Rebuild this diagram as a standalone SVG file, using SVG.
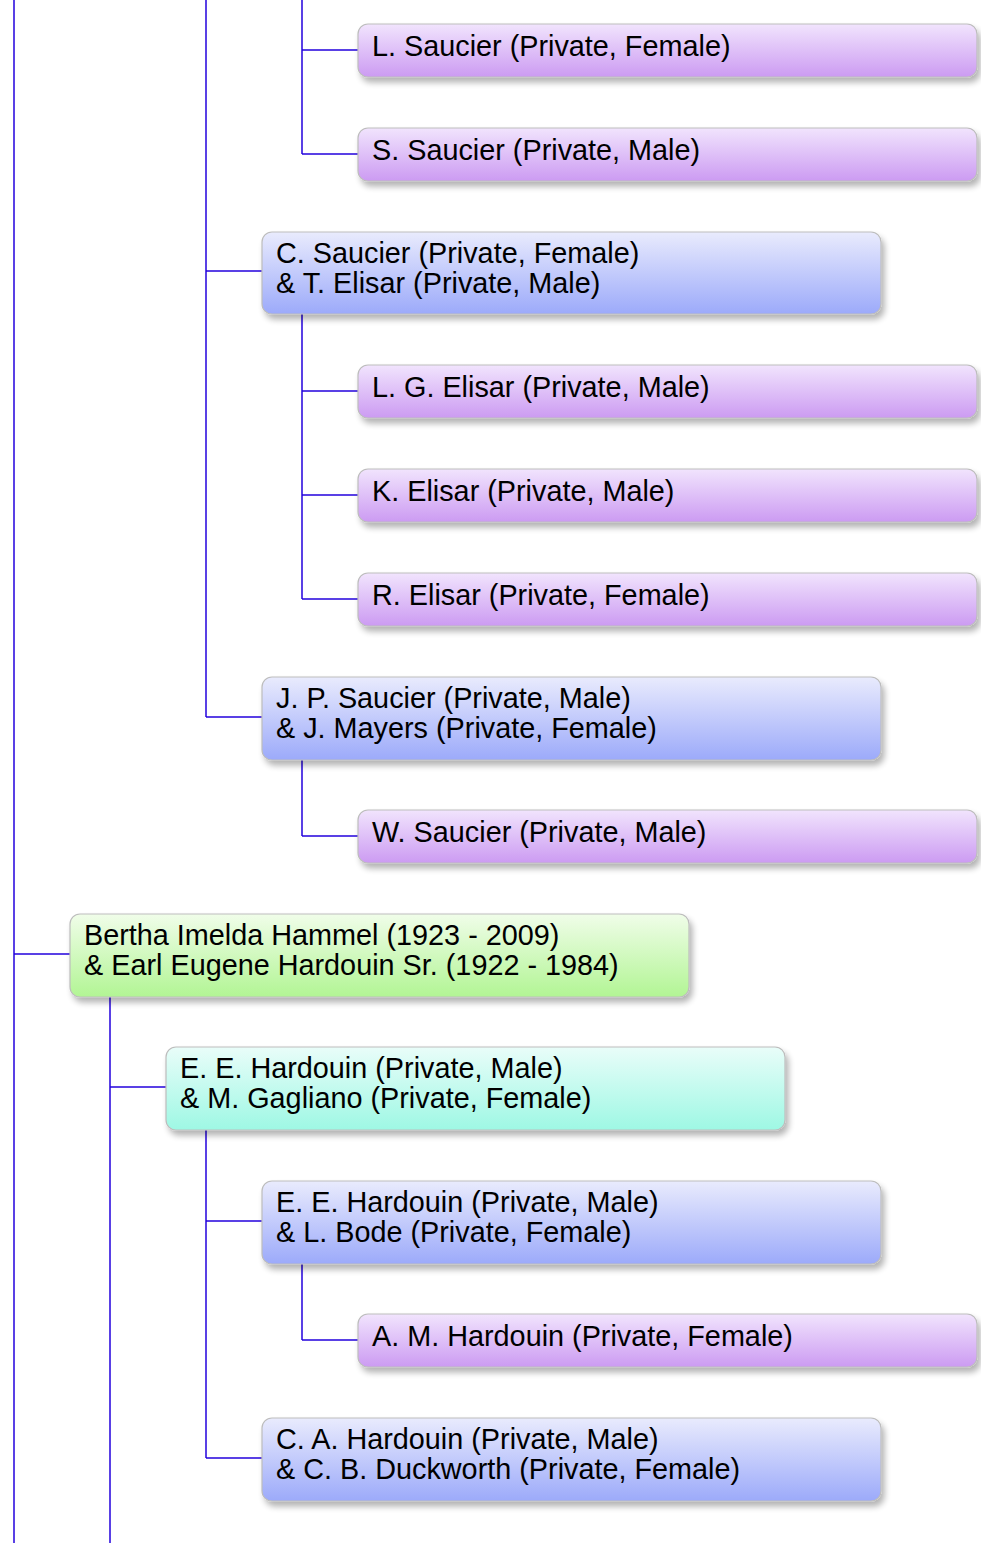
<svg xmlns="http://www.w3.org/2000/svg" width="981" height="1543" viewBox="0 0 981 1543">
<defs>
<linearGradient id="gP" x1="0" y1="0" x2="0" y2="1"><stop offset="0" stop-color="#f1e4fd"/><stop offset="1" stop-color="#cc9bf2"/></linearGradient>
<linearGradient id="gB" x1="0" y1="0" x2="0" y2="1"><stop offset="0" stop-color="#e9ebfd"/><stop offset="1" stop-color="#9caafa"/></linearGradient>
<linearGradient id="gG" x1="0" y1="0" x2="0" y2="1"><stop offset="0" stop-color="#f0fde9"/><stop offset="1" stop-color="#b2f594"/></linearGradient>
<linearGradient id="gC" x1="0" y1="0" x2="0" y2="1"><stop offset="0" stop-color="#e9fdf9"/><stop offset="1" stop-color="#9ef8e4"/></linearGradient>
<filter id="sh" x="-5%" y="-20%" width="115%" height="160%"><feGaussianBlur in="SourceAlpha" stdDeviation="3"/><feOffset dx="3" dy="5"/><feComponentTransfer><feFuncA type="linear" slope="0.3"/></feComponentTransfer><feMerge><feMergeNode/><feMergeNode in="SourceGraphic"/></feMerge></filter>
</defs>
<style>
.c line{stroke:#2200dd;stroke-width:1.5}
rect{stroke:#bdbdbd;stroke-width:1.2;filter:url(#sh)}
.p{fill:url(#gP)} .b{fill:url(#gB)} .g{fill:url(#gG)} .cy{fill:url(#gC)}
text{font-family:"Liberation Sans",Arial,sans-serif;font-size:28.8px;fill:#000}
</style>
<g class="c" id="connectors">
<line x1="14" y1="0" x2="14" y2="1543"/>
<line x1="206" y1="0" x2="206" y2="717"/>
<line x1="302" y1="0" x2="302" y2="154"/>
<line x1="302" y1="50" x2="358" y2="50"/>
<line x1="302" y1="154" x2="358" y2="154"/>
<line x1="206" y1="271" x2="262" y2="271"/>
<line x1="302" y1="314" x2="302" y2="599"/>
<line x1="302" y1="391" x2="358" y2="391"/>
<line x1="302" y1="495" x2="358" y2="495"/>
<line x1="302" y1="599" x2="358" y2="599"/>
<line x1="206" y1="717" x2="262" y2="717"/>
<line x1="302" y1="760" x2="302" y2="836"/>
<line x1="302" y1="836" x2="358" y2="836"/>
<line x1="14" y1="954" x2="70" y2="954"/>
<line x1="110" y1="997" x2="110" y2="1543"/>
<line x1="110" y1="1087" x2="166" y2="1087"/>
<line x1="206" y1="1130" x2="206" y2="1458"/>
<line x1="206" y1="1221" x2="262" y2="1221"/>
<line x1="302" y1="1264" x2="302" y2="1340"/>
<line x1="302" y1="1340" x2="358" y2="1340"/>
<line x1="206" y1="1458" x2="262" y2="1458"/>
</g>
<g id="n1"><rect class="p" x="358" y="24" width="619" height="53" rx="10"/><text x="372" y="56">L. Saucier (Private, Female)</text></g>
<g id="n2"><rect class="p" x="358" y="128" width="619" height="53" rx="10"/><text x="372" y="160">S. Saucier (Private, Male)</text></g>
<g id="n3"><rect class="b" x="262" y="232" width="619" height="82" rx="10"/><text x="276" y="263">C. Saucier (Private, Female)</text><text x="276" y="293">&amp; T. Elisar (Private, Male)</text></g>
<g id="n4"><rect class="p" x="358" y="365" width="619" height="53" rx="10"/><text x="372" y="397">L. G. Elisar (Private, Male)</text></g>
<g id="n5"><rect class="p" x="358" y="469" width="619" height="53" rx="10"/><text x="372" y="501">K. Elisar (Private, Male)</text></g>
<g id="n6"><rect class="p" x="358" y="573" width="619" height="53" rx="10"/><text x="372" y="605">R. Elisar (Private, Female)</text></g>
<g id="n7"><rect class="b" x="262" y="677" width="619" height="83" rx="10"/><text x="276" y="708">J. P. Saucier (Private, Male)</text><text x="276" y="738">&amp; J. Mayers (Private, Female)</text></g>
<g id="n8"><rect class="p" x="358" y="810" width="619" height="53" rx="10"/><text x="372" y="842">W. Saucier (Private, Male)</text></g>
<g id="n9"><rect class="g" x="70" y="914" width="619" height="83" rx="10"/><text x="84" y="945">Bertha Imelda Hammel (1923 - 2009)</text><text x="84" y="975">&amp; Earl Eugene Hardouin Sr. (1922 - 1984)</text></g>
<g id="n10"><rect class="cy" x="166" y="1047" width="619" height="83" rx="10"/><text x="180" y="1078">E. E. Hardouin (Private, Male)</text><text x="180" y="1108">&amp; M. Gagliano (Private, Female)</text></g>
<g id="n11"><rect class="b" x="262" y="1181" width="619" height="83" rx="10"/><text x="276" y="1212">E. E. Hardouin (Private, Male)</text><text x="276" y="1242">&amp; L. Bode (Private, Female)</text></g>
<g id="n12"><rect class="p" x="358" y="1314" width="619" height="53" rx="10"/><text x="372" y="1346">A. M. Hardouin (Private, Female)</text></g>
<g id="n13"><rect class="b" x="262" y="1418" width="619" height="83" rx="10"/><text x="276" y="1449">C. A. Hardouin (Private, Male)</text><text x="276" y="1479">&amp; C. B. Duckworth (Private, Female)</text></g>
</svg>
